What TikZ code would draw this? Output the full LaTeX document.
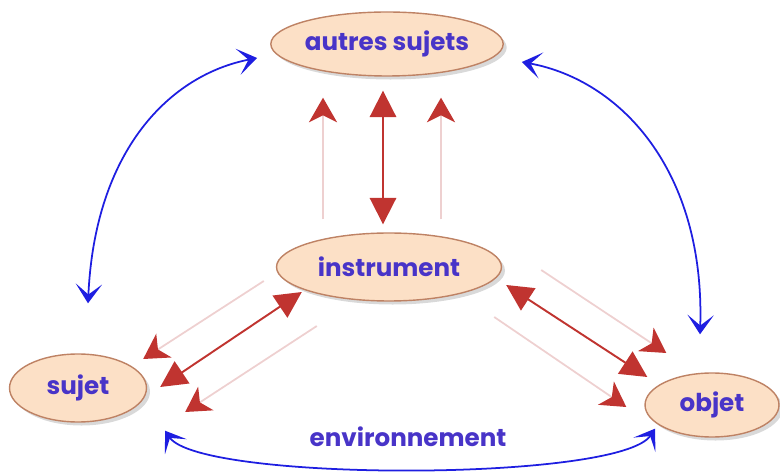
\documentclass[tikz,border=0pt]{standalone}
\usepackage{fontspec}
\usepackage{xcolor}
\usetikzlibrary{shapes.geometric,arrows.meta,shadows,calc}
\newfontfamily\diagfont{Poppins}
\definecolor{peach}{RGB}{252,224,198}
\definecolor{peachline}{RGB}{190,130,100}
\definecolor{labelblue}{RGB}{72,52,200}
\definecolor{linkblue}{RGB}{30,30,225}
\definecolor{linkred}{RGB}{192,52,48}
\definecolor{ghostred}{RGB}{238,208,208}

\begin{document}
\begin{tikzpicture}[x=0.02cm,y=-0.02cm,
	pole/.style={ellipse,draw=peachline,line width=0.8pt,fill=peach,inner sep=0pt,
		drop shadow={shadow xshift=2pt,shadow yshift=-2pt,opacity=0.3},
		font=\diagfont\bfseries\fontsize{14}{16}\selectfont,text=labelblue},
	mediation/.style={draw=linkred,line width=1.1pt,
		{Triangle[length=15pt,width=15pt]}-{Triangle[length=15pt,width=15pt]}},
	ghost/.style={draw=ghostred,line width=1pt,
		-{Stealth[length=14pt,width=16pt,inset=4pt,color=linkred,fill=linkred]}},
	exchange/.style={draw=linkblue,line width=1pt,
		{Stealth[length=11pt,width=15pt,inset=6pt]}-{Stealth[length=11pt,width=15pt,inset=6pt]}}]
			\useasboundingbox (0,0) rectangle (780,472);
			\node[pole,minimum width=4.1cm,minimum height=1.28cm] (autres) at (387,44) {autres sujets};
			\node[pole,minimum width=4.5cm,minimum height=1.36cm] (instrument) at (389,267) {instrument};
			\node[pole,minimum width=2.74cm,minimum height=1.36cm] (sujet) at (78,388) {sujet};
			\node[pole,minimum width=2.68cm,minimum height=1.28cm] (objet) at (712,405) {objet};
			\node[font=\diagfont\bfseries\fontsize{14}{16}\selectfont,text=labelblue] (milieu) at (408,437) {environnement};
			% instrument -- autres sujets
			\draw[ghost] ($(instrument.north)+(-66,-13)$) -- ($(autres.south)+(-64,21)$);
			\draw[ghost] ($(instrument.north)+(52,-13)$) -- ($(autres.south)+(54,21)$);
			\draw[mediation] ($(autres.south)+(-4,14)$) -- ($(instrument.north)+(-6,-8)$);
			% instrument -- sujet
			\draw[ghost] ($(instrument.west)+(-12,14)$) -- ($(sujet.east)+(-4,-29)$);
			\draw[ghost] ($(instrument.west)+(41,59)$) -- ($(sujet.east)+(38,24)$);
			\draw[mediation] ($(instrument.west)+(26,25)$) -- ($(sujet.east)+(13,-1)$);
			% instrument -- objet
			\draw[ghost] ($(instrument.east)+(39,3)$) -- ($(objet.west)+(22,-52)$);
			\draw[ghost] ($(instrument.east)+(-8,50)$) -- ($(objet.west)+(-18,2)$);
			\draw[mediation] ($(instrument.east)+(4,18)$) -- ($(objet.west)+(3,-28)$);
			% blue links
			\draw[exchange] ($(sujet.north)+(10,-50)$) .. controls (95,150) and (170,75) .. ($(autres.west)+(-13,14)$);
			\draw[exchange] ($(autres.east)+(18,18)$) .. controls (620,80) and (705,170) .. ($(objet.north)+(-12,-38)$);
			\draw[exchange] ($(sujet.south)+(87,8)$) .. controls (200,482) and (620,482) .. ($(objet.south)+(-57,-9)$);
\end{tikzpicture}
\end{document}
